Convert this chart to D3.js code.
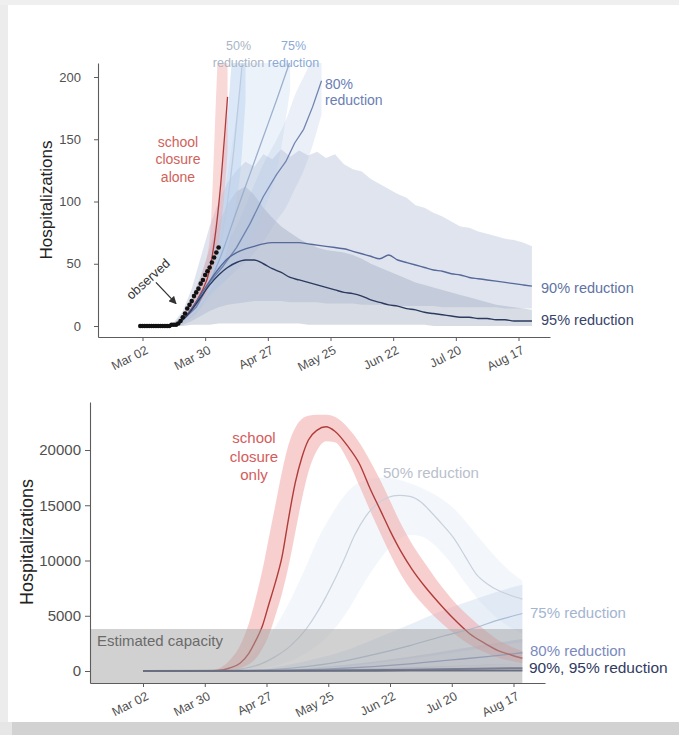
<!DOCTYPE html>
<html>
<head>
<meta charset="utf-8">
<script src="https://cdn.jsdelivr.net/npm/d3@7"></script>
<style>
  html, body { margin: 0; padding: 0; background: #fff; }
  svg { display: block; font-family: "Liberation Sans", Arial, Helvetica, sans-serif; }
</style>
</head>
<body>
<svg id="chart" width="679" height="735"></svg>
<script>
// ---------------- data ----------------
const tickDates = ["2020-03-02","2020-03-30","2020-04-27","2020-05-25","2020-06-22","2020-07-20","2020-08-17"];
const topYTicks = [0, 50, 100, 150, 200];
const bottomYTicks = [0, 5000, 10000, 15000, 20000];

// observed daily hospitalizations starting Mar 01
const observedStart = "2020-03-01";
const observedValues = [0,0,0,0,0,0,0,0,0,0,0,0,0,0,1,1,1,2,4,7,10,14,17,20,24,27,30,34,37,41,44,47,51,55,59,63];

// projections (top panel) — 90% and 95% contact reduction, every 4 days Mar 16 .. Aug 23
const longStart = "2020-03-16";
const longEnd = "2020-08-24";
const mid90 = [1,5,14,25,36,46,54,59,62,64,66,67,67,67,67,66,65,64,63,62,60,58,56,54,57,53,51,49,47,45,44,42,41,39,38,37,36,35,34,33,32];
const lo90  = [0,1,4,8,12,15,17,18,19,20,20,20,20,19,19,19,19,18,18,18,18,17,17,17,17,16,16,16,16,16,15,15,15,15,15,15,15,14,14,14,14];
const hi90  = [3,12,30,55,80,100,115,125,132,128,138,134,142,136,141,137,140,135,138,130,126,124,118,114,110,106,103,97,95,91,88,84,80,79,76,74,72,70,69,67,64];
const mid95 = [1,5,13,23,33,41,47,51,53,53,50,46,43,39,37,35,33,31,29,27,26,24,21,19,17,16,14,13,11,10,9,8,7,7,6,6,5,5,4,4,4];
const lo95  = [0,0,1,1,1,2,2,2,2,2,2,2,2,2,2,1,1,1,1,1,1,1,1,1,1,1,1,1,1,0,0,0,0,0,0,0,0,0,0,0,0];
const hi95  = [2,9,22,40,62,82,98,108,112,105,95,87,80,75,70,66,63,61,60,59,57,54,50,47,44,41,38,35,33,31,29,27,25,23,21,19,17,16,15,14,13];

// projections (top panel) — scenarios that leave the plotted range
const closureTopDates = ["2020-03-20","2020-03-24","2020-03-28","2020-04-01","2020-04-04","2020-04-06","2020-04-08","2020-04-09"];
const closureTopMid = [6,14,26,45,80,115,160,184];
const closureTopLo  = [4,10,19,32,55,80,115,140];
const closureTopHi  = [9,20,38,70,190,280,360,400];

const fiftyTopDates = ["2020-03-20","2020-03-24","2020-03-28","2020-04-01","2020-04-05","2020-04-09","2020-04-12","2020-04-15","2020-04-17"];
const fiftyTopMid = [5,13,24,38,60,100,145,200,240];
const fiftyTopLo  = [3,9,17,28,42,62,90,130,180];
const fiftyTopHi  = [8,20,38,62,100,170,240,320,370];

const seventyFiveTopDates = ["2020-03-20","2020-03-26","2020-04-01","2020-04-07","2020-04-13","2020-04-19","2020-04-25","2020-05-01","2020-05-07"];
const seventyFiveTopMid = [5,16,35,61,92,122,152,182,213];
const seventyFiveTopLo  = [3,11,22,35,50,68,92,125,190];
const seventyFiveTopHi  = [8,24,55,100,170,250,330,400,480];

const eightyTopDates = ["2020-03-20","2020-03-26","2020-04-01","2020-04-07","2020-04-13","2020-04-19","2020-04-25","2020-05-01","2020-05-05","2020-05-09","2020-05-13","2020-05-17","2020-05-21"];
const eightyTopMid = [5,15,35,48,63,82,104,122,132,147,158,176,197];
const eightyTopLo  = [3,10,25,35,45,55,68,85,95,110,125,145,170];
const eightyTopHi  = [8,20,45,62,80,105,130,150,165,185,200,215,230];

// projections (bottom panel)
const closureBotDates = ["2020-03-02","2020-03-20","2020-04-01","2020-04-05","2020-04-10","2020-04-15","2020-04-19","2020-04-22","2020-04-25","2020-04-28","2020-05-01","2020-05-04","2020-05-07","2020-05-10","2020-05-13","2020-05-16","2020-05-20","2020-05-24","2020-05-28","2020-06-03","2020-06-08","2020-06-13","2020-06-18","2020-06-22","2020-06-27","2020-07-02","2020-07-08","2020-07-14","2020-07-21","2020-07-28","2020-08-04","2020-08-10","2020-08-16","2020-08-21"];
const closureBotMid = [0,5,20,50,250,700,1600,2700,4000,6000,8000,10300,13800,17000,19300,20900,21800,22100,21700,20300,18800,16500,14400,12700,10800,9200,7600,6200,4700,3400,2500,1850,1450,1150];
const closureBotLo  = [0,0,5,10,50,250,600,1100,2000,3200,5000,7000,9500,12500,15500,18000,20000,20800,20700,19000,16800,14500,12300,10600,8700,7200,5800,4600,3400,2400,1700,1200,900,700];
const closureBotHi  = [0,15,60,200,900,2300,4300,6500,9000,12000,15000,18000,20500,22000,22800,23100,23200,23200,23000,22000,20700,19000,17100,15400,13300,11500,9700,8000,6300,4900,3700,2800,2200,1800];

const fiftyBotDates = ["2020-03-02","2020-04-10","2020-04-17","2020-04-24","2020-05-01","2020-05-08","2020-05-15","2020-05-20","2020-05-26","2020-06-01","2020-06-06","2020-06-11","2020-06-16","2020-06-21","2020-06-26","2020-07-01","2020-07-06","2020-07-11","2020-07-16","2020-07-21","2020-07-26","2020-07-31","2020-08-05","2020-08-10","2020-08-15","2020-08-21"];
const fiftyBotMid = [0,50,250,600,1300,2300,3800,5300,7500,10000,12300,14000,15100,15700,15900,15800,15300,14300,13200,12000,10400,8800,7900,7300,6900,6500];
const fiftyBotLo  = [0,0,50,200,450,900,1600,2300,3400,4900,6500,8200,9700,11000,11900,12300,12200,11600,10600,9400,8000,6700,5600,4700,4000,3400];
const fiftyBotHi  = [0,200,900,2200,4000,6500,9500,11800,14000,15800,16800,17300,17500,17500,17300,17000,16600,16100,15500,14700,13600,12400,11200,10100,9100,8200];

const seventyFiveBotDates = ["2020-03-02","2020-04-15","2020-05-01","2020-05-15","2020-06-01","2020-06-15","2020-07-01","2020-07-15","2020-08-01","2020-08-10","2020-08-21"];
const seventyFiveBotMid = [0,20,150,400,900,1500,2300,3100,4000,4600,5200];
const seventyFiveBotLo  = [0,5,60,180,400,700,1100,1500,2000,2300,2600];
const seventyFiveBotHi  = [0,50,350,900,1800,2900,4200,5400,6600,7200,7800];

const eightyBotDates = ["2020-03-02","2020-05-01","2020-06-01","2020-07-01","2020-07-20","2020-08-05","2020-08-21"];
const eightyBotMid = [0,50,250,650,1000,1300,1650];
const eightyBotLo  = [0,15,90,250,400,550,700];
const eightyBotHi  = [0,120,550,1300,1900,2400,2900];

const lowBotDates = ["2020-03-02","2020-05-01","2020-06-01","2020-07-01","2020-08-01","2020-08-21"];
const ninetyBotMid = [0,20,60,120,200,260];
const ninetyBotLo  = [0,5,20,40,70,90];
const ninetyBotHi  = [0,60,180,350,550,700];
const ninetyFiveBotMid = [0,10,20,25,25,25];

const capacity = 3800;
const capacityEnd = "2020-08-21";

// ---------------- helpers ----------------
const parse = d3.timeParse("%Y-%m-%d");
const svg = d3.select("#chart");
const FONT = '"Liberation Sans", Arial, Helvetica, sans-serif';

function rows(dates, mid, lo, hi) {
  return dates.map((d, i) => ({
    date: d instanceof Date ? d : parse(d),
    mid: mid ? mid[i] : null,
    lo: lo ? lo[i] : null,
    hi: hi ? hi[i] : null
  }));
}

// time scale pinned at two reference dates, then stretched to the axis extent
function dateScale(d0, d1, p0, p1, left, right) {
  const s = d3.scaleTime().domain([parse(d0), parse(d1)]).range([p0, p1]);
  return d3.scaleTime().domain([s.invert(left), s.invert(right)]).range([left, right]);
}
function valueScale(v0, v1, p0, p1, bottom, top) {
  const s = d3.scaleLinear().domain([v0, v1]).range([p0, p1]);
  return d3.scaleLinear().domain([s.invert(bottom), s.invert(top)]).range([bottom, top]);
}

function drawAxes(x, y, yTicks, yFont, yPad, ySize) {
  const xa = svg.append("g")
    .attr("transform", `translate(0,${y.range()[0]})`)
    .call(d3.axisBottom(x).tickValues(tickDates.map(parse))
      .tickFormat(d3.timeFormat("%b %d")).tickSize(4).tickSizeOuter(0));
  xa.select(".domain").attr("stroke", "#5c5c5c").attr("stroke-width", 1.1);
  xa.selectAll(".tick line").attr("stroke", "#5c5c5c");
  xa.selectAll(".tick text")
    .attr("font-family", FONT).attr("font-size", 12.5).attr("fill", "#505050")
    .attr("text-anchor", "end").attr("x", 0).attr("y", 0).attr("dy", "0.35em")
    .attr("transform", "translate(4,12) rotate(-27)");

  const ya = svg.append("g")
    .attr("transform", `translate(${x.range()[0]},0)`)
    .call(d3.axisLeft(y).tickValues(yTicks).tickFormat(d3.format("d"))
      .tickSize(ySize).tickPadding(yPad).tickSizeOuter(0));
  ya.select(".domain").attr("stroke", "#5c5c5c").attr("stroke-width", 1.1);
  ya.selectAll(".tick line").attr("stroke", "#5c5c5c");
  ya.selectAll(".tick text")
    .attr("font-family", FONT).attr("font-size", yFont).attr("fill", "#505050");
}

function band(g, data, x, y, fill, opacity, curve) {
  g.append("path").datum(data)
    .attr("d", d3.area().x(d => x(d.date)).y0(d => y(d.lo)).y1(d => y(d.hi)).curve(curve))
    .attr("fill", fill).attr("fill-opacity", opacity).attr("stroke", "none");
}
function line(g, data, x, y, stroke, width, curve) {
  g.append("path").datum(data)
    .attr("d", d3.line().x(d => x(d.date)).y(d => y(d.mid)).curve(curve))
    .attr("fill", "none").attr("stroke", stroke).attr("stroke-width", width)
    .attr("stroke-linejoin", "round");
}
function label(lines, x, y, color, size, anchor, lineGap, weight) {
  const t = svg.append("text")
    .attr("font-family", FONT).attr("font-size", size).attr("fill", color)
    .attr("text-anchor", anchor || "start").attr("font-weight", weight || "normal");
  lines.forEach((s, i) => {
    t.append("tspan").attr("x", x).attr("y", y + i * (lineGap || 0)).attr("dy", "0.35em").text(s);
  });
  return t;
}

// ---------------- page frame ----------------
svg.append("rect").attr("width", 679).attr("height", 735).attr("fill", "#ffffff");
svg.append("rect").attr("x", 0).attr("y", 0).attr("width", 679).attr("height", 5).attr("fill", "#efefef");
svg.append("rect").attr("x", 0).attr("y", 5).attr("width", 8).attr("height", 717).attr("fill", "#ececec");
svg.append("rect").attr("x", 0).attr("y", 722).attr("width", 679).attr("height", 13).attr("fill", "#d2d2d2");
svg.append("rect").attr("x", 0).attr("y", 722).attr("width", 12).attr("height", 13).attr("fill", "#e6e6e6");

// ================= top panel: early projections =================
const xT = dateScale("2020-03-02", "2020-08-17", 142.5, 518.5, 98, 550);
const yT = valueScale(0, 200, 326, 77, 337, 63);

svg.append("clipPath").attr("id", "clipTop").append("rect")
  .attr("x", xT.range()[0]).attr("y", yT.range()[1])
  .attr("width", xT.range()[1] - xT.range()[0]).attr("height", yT.range()[0] - yT.range()[1]);
const gT = svg.append("g").attr("clip-path", "url(#clipTop)");

const longDates = d3.timeDay.range(parse(longStart), parse(longEnd), 4);
const r90 = rows(longDates, mid90, lo90, hi90);
const r95 = rows(longDates, mid95, lo95, hi95);
const rClT = rows(closureTopDates, closureTopMid, closureTopLo, closureTopHi);
const r50T = rows(fiftyTopDates, fiftyTopMid, fiftyTopLo, fiftyTopHi);
const r75T = rows(seventyFiveTopDates, seventyFiveTopMid, seventyFiveTopLo, seventyFiveTopHi);
const r80T = rows(eightyTopDates, eightyTopMid, eightyTopLo, eightyTopHi);

band(gT, r90, xT, yT, "#b8c3db", 0.45, d3.curveLinear);
band(gT, r95, xT, yT, "#98a2b8", 0.38, d3.curveLinear);
band(gT, r80T, xT, yT, "#a3b7dc", 0.22, d3.curveMonotoneX);
band(gT, r75T, xT, yT, "#b3cae8", 0.25, d3.curveMonotoneX);
band(gT, r50T, xT, yT, "#b9d1f0", 0.5, d3.curveMonotoneX);
band(gT, rClT, xT, yT, "#f2a9a9", 0.45, d3.curveMonotoneX);

line(gT, r50T, xT, yT, "#bccbe0", 1.3, d3.curveMonotoneX);
line(gT, r75T, xT, yT, "#9bb0cf", 1.3, d3.curveMonotoneX);
line(gT, r80T, xT, yT, "#7084b0", 1.3, d3.curveLinear);
line(gT, rClT, xT, yT, "#b03a3a", 1.3, d3.curveMonotoneX);
line(gT, r90, xT, yT, "#56699a", 1.4, d3.curveMonotoneX);
line(gT, r95, xT, yT, "#2b3a5f", 1.4, d3.curveMonotoneX);

// observed points
const obs0 = parse(observedStart);
gT.selectAll("circle.obs").data(observedValues).join("circle")
  .attr("class", "obs")
  .attr("cx", (v, i) => xT(d3.timeDay.offset(obs0, i)))
  .attr("cy", v => yT(v))
  .attr("r", 2.3).attr("fill", "#111");

drawAxes(xT, yT, topYTicks, 13, 13, 4);

// arrow pointing at the observed series
svg.append("defs").append("marker")
  .attr("id", "arrowHead").attr("viewBox", "0 0 10 10").attr("refX", 9).attr("refY", 5)
  .attr("markerWidth", 6).attr("markerHeight", 6).attr("orient", "auto")
  .append("path").attr("d", "M0,0 L10,5 L0,10 z").attr("fill", "#333");
svg.append("line")
  .attr("x1", xT(parse("2020-03-08"))).attr("y1", yT(35))
  .attr("x2", xT(parse("2020-03-17"))).attr("y2", yT(18))
  .attr("stroke", "#333").attr("stroke-width", 1.3).attr("marker-end", "url(#arrowHead)");
svg.append("text")
  .attr("font-family", FONT).attr("font-size", 13).attr("fill", "#333")
  .attr("text-anchor", "middle").attr("dy", "0.35em")
  .attr("transform", `translate(148,279) rotate(-42)`).text("observed");

// top annotations
label(["school", "closure", "alone"], 178, 142, "#d0625a", 14, "middle", 17.5);
label(["50%", "reduction"], 238.5, 46, "#a9b5c6", 12.5, "middle", 17);
label(["75%", "reduction"], 293.5, 46, "#8aaad5", 12.5, "middle", 17);
label(["80%", "reduction"], 325, 84, "#6a7eb4", 14, "start", 16.5);
label(["90% reduction"], 541, 288, "#5f73a3", 14.5, "start");
label(["95% reduction"], 541, 320, "#37446b", 14.5, "start");

svg.append("text")
  .attr("font-family", FONT).attr("font-size", 17).attr("fill", "#222")
  .attr("text-anchor", "middle").attr("dy", "0.35em")
  .attr("transform", "translate(46,200) rotate(-90)").text("Hospitalizations");

// ================= bottom panel: full-season projections =================
const xB = dateScale("2020-03-02", "2020-08-17", 143, 513.5, 90, 545);
const yB = valueScale(0, 20000, 671, 450, 683, 402);
const gB = svg.append("g");

const rClB = rows(closureBotDates, closureBotMid, closureBotLo, closureBotHi);
const r50B = rows(fiftyBotDates, fiftyBotMid, fiftyBotLo, fiftyBotHi);
const r75B = rows(seventyFiveBotDates, seventyFiveBotMid, seventyFiveBotLo, seventyFiveBotHi);
const r80B = rows(eightyBotDates, eightyBotMid, eightyBotLo, eightyBotHi);
const r90B = rows(lowBotDates, ninetyBotMid, ninetyBotLo, ninetyBotHi);
const r95B = rows(lowBotDates, ninetyFiveBotMid, null, null);

band(gB, r50B, xB, yB, "#d3e2f2", 0.28, d3.curveMonotoneX);
band(gB, r75B, xB, yB, "#bccde6", 0.32, d3.curveMonotoneX);
band(gB, r80B, xB, yB, "#9fb0d6", 0.35, d3.curveMonotoneX);
band(gB, r90B, xB, yB, "#7d8ab0", 0.3, d3.curveMonotoneX);
band(gB, rClB, xB, yB, "#f2a0a0", 0.5, d3.curveMonotoneX);

line(gB, r50B, xB, yB, "#c8d0dc", 1.2, d3.curveMonotoneX);
line(gB, r75B, xB, yB, "#aabcd6", 1.2, d3.curveMonotoneX);
line(gB, r80B, xB, yB, "#8696c3", 1.3, d3.curveMonotoneX);
line(gB, rClB, xB, yB, "#b03c3a", 1.4, d3.curveMonotoneX);
line(gB, r90B, xB, yB, "#4c5a82", 2, d3.curveMonotoneX);
line(gB, r95B, xB, yB, "#2e3a5c", 1.8, d3.curveMonotoneX);

// estimated hospital capacity
gB.append("rect")
  .attr("x", xB.range()[0]).attr("y", yB(capacity))
  .attr("width", xB(parse(capacityEnd)) - xB.range()[0])
  .attr("height", yB.range()[0] - yB(capacity))
  .attr("fill", "#a4a4a4").attr("fill-opacity", 0.5);
label(["Estimated capacity"], 97, 641, "#6a6a6a", 15, "start");

drawAxes(xB, yB, bottomYTicks, 15, 4, 5);

label(["school", "closure", "only"], 254, 438, "#d35c5c", 15, "middle", 18.5);
label(["50% reduction"], 383, 473, "#b9c0cc", 15, "start");
label(["75% reduction"], 530, 613, "#a3b5cf", 15, "start");
label(["80% reduction"], 530, 651, "#7b8abd", 15, "start");
label(["90%, 95% reduction"], 529, 668, "#313b62", 15.5, "start");

svg.append("text")
  .attr("font-family", FONT).attr("font-size", 18).attr("fill", "#222")
  .attr("text-anchor", "middle").attr("dy", "0.35em")
  .attr("transform", "translate(27,542) rotate(-90)").text("Hospitalizations");
</script>
</body>
</html>
